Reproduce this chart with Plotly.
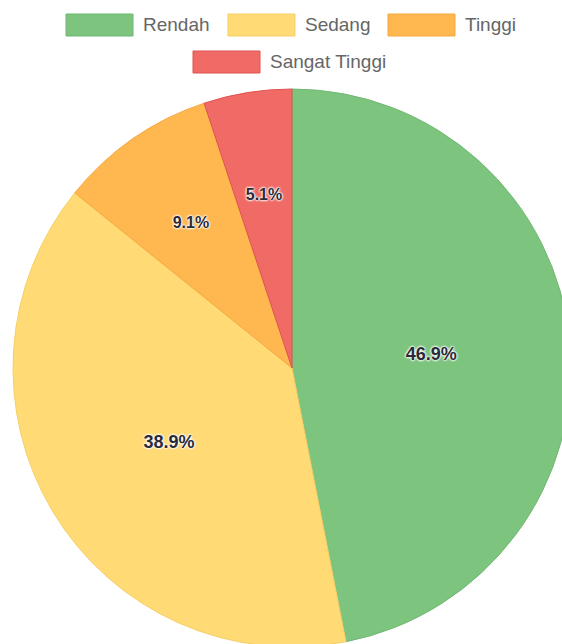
import plotly.graph_objects as go

categories = ["Rendah", "Sedang", "Tinggi", "Sangat Tinggi"]
percent_values = [46.9, 38.9, 9.1, 5.1]

colors = ["#7dc47f", "#ffda75", "#ffb74f", "#f06b66"]
border_colors = ["#6fb872", "#f5cf66", "#f5a83f", "#e0524e"]

# page is 562x644; the pie runs a little past the right and bottom edges,
# so the figure is drawn larger and the page clips it (see post_script below)
W, H = 590, 670
cx, cy, r = 292, 368, 279

labels_text = [f"{v}%" for v in percent_values]


def domain_for(radius):
    return dict(x=[max((cx - radius) / W, 0), min((cx + radius) / W, 1)],
                y=[max(1 - (cy + radius) / H, 0), min(1 - (cy - radius) / H, 1)])


shadow = ("0px 0px 2px white, 0px 0px 2px white, 0px 0px 2px white, "
          "0px 0px 3px white")


def label_pie(text, radius, size):
    return go.Pie(
        labels=categories,
        values=percent_values,
        sort=False,
        direction="clockwise",
        rotation=0,
        marker=dict(colors=["rgba(0,0,0,0)"] * len(categories), line=dict(width=0)),
        text=text,
        textinfo="text",
        textposition="inside",
        insidetextorientation="horizontal",
        textfont=dict(family="Arial", size=size, color="#2b2b38", weight="bold", shadow=shadow),
        hoverinfo="skip",
        showlegend=False,
        domain=domain_for(radius),
    )


fig = go.Figure()

# main pie with the labels of the two big slices
fig.add_trace(go.Pie(
    labels=categories,
    values=percent_values,
    sort=False,
    direction="clockwise",
    rotation=0,
    marker=dict(colors=colors, line=dict(color=border_colors, width=1)),
    text=[t if v > 20 else "" for t, v in zip(labels_text, percent_values)],
    textinfo="text",
    textposition="inside",
    insidetextorientation="horizontal",
    textfont=dict(family="Arial", size=18, color="#2b2b38", weight="bold", shadow=shadow),
    hoverinfo="skip",
    showlegend=False,
    domain=domain_for(r),
))

# thin slices: transparent concentric pies so their labels sit nearer the centre
small_label_scale = {2: 0.815, 3: 0.73}
for i, scale in small_label_scale.items():
    txt = [labels_text[j] if j == i else "" for j in range(len(categories))]
    fig.add_trace(label_pie(txt, scale * r, 16))

# chart.js style legend: wide colour boxes + grey labels
legend_rows = [[0, 1, 2], [3]]
legend_box_x = [66, 228, 388, 193]
legend_row_y = [14, 51]
box_w, box_h = 67, 22

shapes = []
annotations = []
for row_i, row in enumerate(legend_rows):
    for i in row:
        x0 = legend_box_x[i]
        y0 = legend_row_y[row_i]
        shapes.append(dict(type="rect", xref="paper", yref="paper",
                           x0=x0 / W, x1=(x0 + box_w) / W,
                           y0=1 - y0 / H, y1=1 - (y0 + box_h) / H,
                           fillcolor=colors[i], line=dict(color=border_colors[i], width=1)))
        annotations.append(dict(text=categories[i], xref="paper", yref="paper",
                                x=(x0 + box_w + 8) / W, y=1 - (y0 + box_h / 2) / H,
                                xanchor="left", yanchor="middle", showarrow=False,
                                font=dict(family="Arial", size=19, color="#666666")))

fig.update_layout(
    width=W, height=H,
    margin=dict(l=0, r=0, t=0, b=0),
    paper_bgcolor="white",
    plot_bgcolor="white",
    shapes=shapes,
    annotations=annotations,
)

clip_js = """
document.body.style.margin = '0';
document.body.style.overflow = 'hidden';
document.documentElement.style.overflow = 'hidden';
var gd = document.getElementById('{plot_id}');
gd.style.width = '562px';
gd.style.height = '644px';
gd.style.overflow = 'hidden';
"""

fig.write_html("out.html", post_script=clip_js, config={"displayModeBar": False})
